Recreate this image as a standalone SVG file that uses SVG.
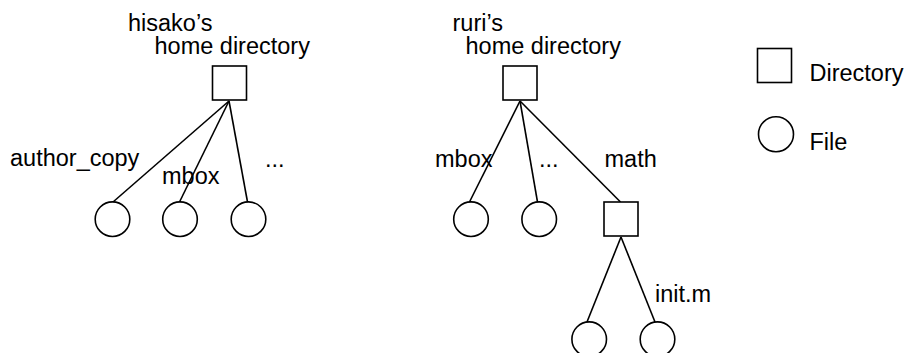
<svg xmlns="http://www.w3.org/2000/svg" width="905" height="353" viewBox="0 0 905 353">
  <style>
    .dir { fill: #fff; stroke: #000; stroke-width: 1.6; }
    .file { fill: #fff; stroke: #000; stroke-width: 1.6; }
    .edge { stroke: #000; stroke-width: 1.6; fill: none; }
    text { font-family: "Liberation Sans", Arial, Helvetica, sans-serif; font-size: 23.5px; fill: #000; }
  </style>
  <rect width="905" height="353" fill="#fff"/>

  <!-- tree edges -->
  <g id="connectors">
    <line class="edge" x1="229" y1="101" x2="113" y2="202"/>
    <line class="edge" x1="229" y1="101" x2="179.5" y2="202"/>
    <line class="edge" x1="229" y1="101" x2="247.5" y2="202"/>
    <line class="edge" x1="520" y1="101" x2="469.5" y2="202"/>
    <line class="edge" x1="520" y1="101" x2="537.5" y2="202"/>
    <line class="edge" x1="520" y1="101" x2="620.5" y2="202"/>
    <line class="edge" x1="621" y1="237" x2="587" y2="322"/>
    <line class="edge" x1="621" y1="237" x2="655" y2="322"/>
  </g>

  <!-- hisako's tree -->
  <g id="hisako-home">
    <rect class="dir" x="212.5" y="66" width="34" height="34"/>
    <text x="128" y="30.5">hisako’s</text>
    <text x="154.5" y="54">home directory</text>
  </g>
  <g id="hisako-author-copy">
    <circle class="file" cx="112.5" cy="219.2" r="17.3"/>
    <text x="10" y="166">author_copy</text>
  </g>
  <g id="hisako-mbox">
    <circle class="file" cx="180" cy="219.2" r="17.3"/>
    <text x="162" y="184">mbox</text>
  </g>
  <g id="hisako-more">
    <circle class="file" cx="248.5" cy="219.2" r="17.3"/>
    <text x="265" y="166.5">...</text>
  </g>

  <!-- ruri's tree -->
  <g id="ruri-home">
    <rect class="dir" x="503" y="66" width="34" height="34"/>
    <text x="452.5" y="30.5">ruri’s</text>
    <text x="465.5" y="54">home directory</text>
  </g>
  <g id="ruri-mbox">
    <circle class="file" cx="471" cy="219.2" r="17.3"/>
    <text x="435" y="166.5">mbox</text>
  </g>
  <g id="ruri-more">
    <circle class="file" cx="539.2" cy="219.2" r="17.3"/>
    <text x="539" y="166.5">...</text>
  </g>
  <g id="ruri-math">
    <rect class="dir" x="604" y="202" width="34" height="34"/>
    <text x="604.5" y="166.5">math</text>
  </g>
  <g id="math-file-1">
    <circle class="file" cx="589.2" cy="339.2" r="17.3"/>
  </g>
  <g id="math-init-m">
    <circle class="file" cx="657.5" cy="339.2" r="17.3"/>
    <text x="655" y="301.5">init.m</text>
  </g>

  <!-- legend -->
  <g id="legend-directory">
    <rect class="dir" x="757.5" y="48.5" width="34" height="34"/>
    <text x="809.5" y="80.5">Directory</text>
  </g>
  <g id="legend-file">
    <circle class="file" cx="776" cy="134.2" r="17.5"/>
    <text x="809.5" y="149.5">File</text>
  </g>
</svg>
